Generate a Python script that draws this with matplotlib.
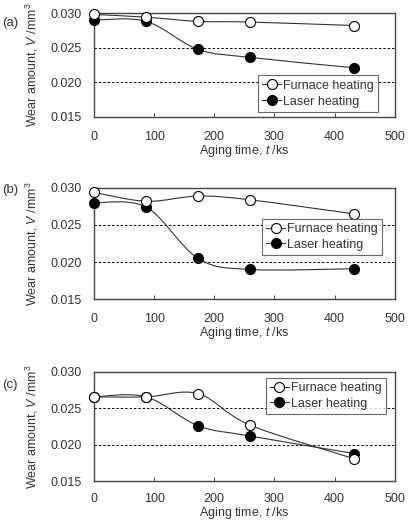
import numpy as np
import matplotlib
matplotlib.use('Agg')
import matplotlib.pyplot as plt
from matplotlib.path import Path
from matplotlib.patches import PathPatch
from matplotlib.lines import Line2D

plt.rcParams['font.family'] = ['Liberation Sans', 'DejaVu Sans']
plt.rcParams['mathtext.fontset'] = 'custom'
plt.rcParams['mathtext.rm'] = 'Liberation Sans'
plt.rcParams['mathtext.it'] = 'Liberation Sans:italic'

# aging time, ks
time = [0, 87, 173, 259, 432]

# wear amount, mm^3
furnace_a = [0.0298, 0.0294, 0.0288, 0.0287, 0.0282]
laser_a = [0.0290, 0.0288, 0.02475, 0.0236, 0.0221]
furnace_b = [0.0294, 0.0282, 0.0289, 0.0284, 0.0265]
laser_b = [0.0280, 0.0274, 0.0205, 0.0190, 0.0191]
furnace_c = [0.02655, 0.02655, 0.0270, 0.0227, 0.0181]
laser_c = [0.02655, 0.02655, 0.0226, 0.0212, 0.0188]

panel_labels = ['(a)', '(b)', '(c)']
yticks = [0.015, 0.020, 0.025, 0.030]
xticks = [0, 100, 200, 300, 400, 500]

# axes rectangles in figure fraction
rects = [[0.229, 0.776, 0.734, 0.199],
         [0.229, 0.427, 0.734, 0.213],
         [0.229, 0.078, 0.734, 0.210]]
legend_anchor = [(0.545, 0.048), (0.558, 0.396), (0.571, 0.613)]
label_y = [0.956, 0.636, 0.262]
xtick_pad = [10, 10, 8.5]


def smooth_path(x, y):
    # Catmull-Rom style smoothing drawn as cubic Bezier segments
    pts = np.column_stack([x, y]).astype(float)
    n = len(pts)
    verts = [pts[0]]
    codes = [Path.MOVETO]
    for i in range(n - 1):
        p0 = pts[max(i - 1, 0)]
        p1 = pts[i]
        p2 = pts[i + 1]
        p3 = pts[min(i + 2, n - 1)]
        c1 = p1 + (p2 - p0) / 6.0
        c2 = p2 - (p3 - p1) / 6.0
        verts += [c1, c2, p2]
        codes += [Path.CURVE4] * 3
    return Path(verts, codes)


fig = plt.figure(figsize=(4.1, 5.22), dpi=100)
data = [(furnace_a, laser_a), (furnace_b, laser_b), (furnace_c, laser_c)]

for k, (furn, las) in enumerate(data):
    ax = fig.add_axes(rects[k])
    for yv in [0.020, 0.025]:
        ax.axhline(yv, color='black', lw=0.7, ls=(0, (2.5, 2)), zorder=1)
    for series, face in [(las, 'black'), (furn, 'white')]:
        patch = PathPatch(smooth_path(time, series), fill=False,
                          edgecolor='#333333', lw=0.8, zorder=2)
        ax.add_patch(patch)
        ax.plot(time, series, ls='none', marker='o', ms=7.2,
                mfc=face, mec='black', mew=0.8, zorder=3, clip_on=False)
    ax.set_xlim(0, 500)
    ax.set_ylim(0.015, 0.030)
    ax.set_xticks(xticks)
    ax.set_yticks(yticks)
    ax.set_yticklabels(['%.3f' % v for v in yticks])
    ax.tick_params(axis='x', direction='in', length=3, width=0.7,
                   labelsize=9, pad=xtick_pad[k], colors='#444444',
                   labelcolor='#333333')
    ax.tick_params(axis='y', direction='in', length=0,
                   labelsize=9, pad=8.5, labelcolor='#333333')
    for s in ax.spines.values():
        s.set_linewidth(1.0)
        s.set_color('#444444')
    ax.set_xlabel('Aging time, $\\it{t}$ /ks', fontsize=9, color='#333333',
                  labelpad=0)
    ax.set_ylabel('Wear amount, $\\it{V}$ /mm$^3$', fontsize=9,
                  color='#333333', labelpad=8)
    handles = [Line2D([], [], color='#333333', lw=0.8, marker='o', ms=7.2,
                      mfc='white', mec='black', mew=0.8),
               Line2D([], [], color='#333333', lw=0.8, marker='o', ms=7.2,
                      mfc='black', mec='black', mew=0.8)]
    leg = ax.legend(handles, ['Furnace heating', 'Laser heating'],
                    loc='lower left', bbox_to_anchor=legend_anchor[k],
                    fontsize=9, frameon=True, fancybox=False,
                    handlelength=1.5, handletextpad=0.15, borderpad=0.35,
                    labelspacing=0.3, borderaxespad=0)
    leg.get_frame().set_edgecolor('#444444')
    leg.get_frame().set_linewidth(0.8)
    for t in leg.get_texts():
        t.set_color('#333333')
    fig.text(0.005, label_y[k], panel_labels[k],
             fontsize=9.5, color='#333333', ha='left', va='center')

fig.savefig('out.png', dpi=100)
